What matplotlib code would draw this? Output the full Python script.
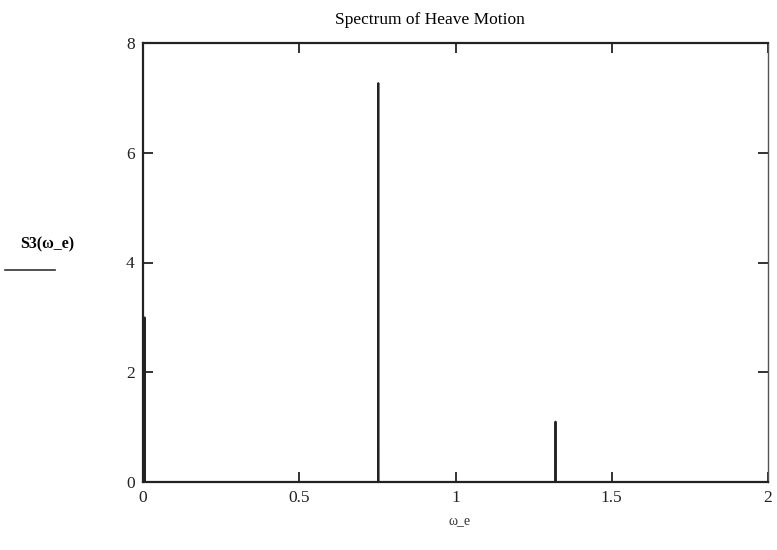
import matplotlib
matplotlib.use("Agg")
import matplotlib.pyplot as plt
from matplotlib.lines import Line2D

# Data: spectrum is ~0 everywhere except narrow spikes
omega_e = [0.0, 0.004, 0.005, 0.006, 0.752, 0.753, 0.754, 1.319, 1.320, 1.321, 2.0]
S3 = [0.0, 0.0, 3.0, 0.0, 0.0, 7.27, 0.0, 0.0, 1.1, 0.0, 0.0]
xticks = [0, 0.5, 1, 1.5, 2]
xticklabels = ["0", "0.5", "1", "1.5", "2"]
yticks = [0, 2, 4, 6, 8]
yticklabels = ["0", "2", "4", "6", "8"]

plt.rcParams['font.family'] = ['Liberation Serif', 'DejaVu Serif']

fig = plt.figure(figsize=(7.77, 5.5), dpi=100)
ax = fig.add_axes([143/777, 1-482/550, (768-143)/777, (482-43)/550])

ax.plot(omega_e, S3, color="#222222", lw=1.4)

ax.set_xlim(0, 2)
ax.set_ylim(0, 8)
ax.set_xticks(xticks)
ax.set_xticklabels(xticklabels)
ax.set_yticks(yticks)
ax.set_yticklabels(yticklabels)
ax.tick_params(direction="in", length=7, width=1.3, colors="#222222",
               labelsize=12.5, top=True, right=True, pad=6)
for s in ax.spines.values():
    s.set_color("#222222")
    s.set_linewidth(1.6)
ax.spines["right"].set_linewidth(1.0)
ax.spines["right"].set_color("#555555")

fig.text(430/777, 1-20/550, "Spectrum of Heave Motion", ha="center", va="center",
         fontsize=12.5)
fig.text(20/777, 1-244/550, "S3(\u03c9_e)", ha="left", va="center",
         fontsize=11.5, fontweight="bold")
fig.add_artist(Line2D([5/777, 55/777], [1-270/550, 1-270/550],
                      transform=fig.transFigure, color="#333333", lw=1.2))
fig.text(460/777, 1-521/550, "\u03c9_e", ha="center", va="center",
         fontsize=10, color="#333333")

fig.savefig("out.png", dpi=100)
